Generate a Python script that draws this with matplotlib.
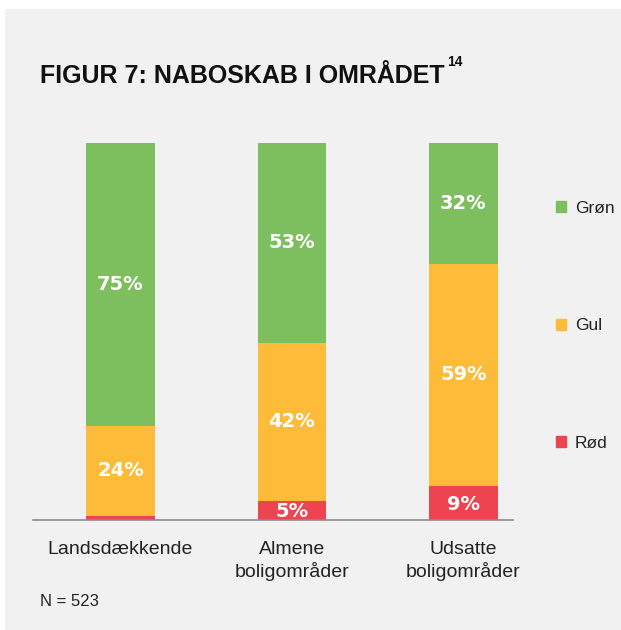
import matplotlib
matplotlib.use("Agg")
import matplotlib.pyplot as plt
from matplotlib.patches import Rectangle, Patch

categories = ["Landsdækkende", "Almene\nboligområder", "Udsatte\nboligområder"]
roed = [1, 5, 9]
gul = [24, 42, 59]
groen = [75, 53, 32]
series_names = ["Grøn", "Gul", "Rød"]

c_groen = "#7dbf5f"
c_gul = "#fdbb3a"
c_roed = "#ee4450"
bg = "#f1f1f1"

fig = plt.figure(figsize=(6.21, 6.30), dpi=100)
fig.patch.set_facecolor("white")
fig.patches.append(Rectangle((5 / 621, 0), 1 - 5 / 621, 621 / 630, transform=fig.transFigure,
                             facecolor=bg, edgecolor="none", zorder=-10))

ax = fig.add_axes([33 / 621, 110 / 630, 480 / 621, 377 / 630])
ax.set_facecolor("none")

x = list(range(len(categories)))
w = 0.40
ax.bar(x, roed, w, color=c_roed)
ax.bar(x, gul, w, bottom=roed, color=c_gul)
bottom2 = [r + g for r, g in zip(roed, gul)]
ax.bar(x, groen, w, bottom=bottom2, color=c_groen)

lab = dict(color="white", fontweight="bold", fontsize=14, ha="center", va="center",
           family="DejaVu Sans")
for i in x:
    if roed[i] >= 3:
        ax.text(i, roed[i] / 2 - 0.3, f"{roed[i]}%", **lab)
    ax.text(i, roed[i] + gul[i] / 2, f"{gul[i]}%", **lab)
    ax.text(i, bottom2[i] + groen[i] / 2, f"{groen[i]}%", **lab)

ax.set_xlim(-0.51, 2.29)
ax.set_ylim(0, 100)
for s in ["top", "right", "left"]:
    ax.spines[s].set_visible(False)
ax.spines["bottom"].set_color("#8c8c8c")
ax.spines["bottom"].set_linewidth(1.2)
ax.set_yticks([])
ax.set_xticks(x)
ax.set_xticklabels(categories, fontsize=14, color="#222222", linespacing=1.3,
                   family=["Liberation Sans", "DejaVu Sans"])
ax.tick_params(axis="x", length=0, pad=15)

handles = [Patch(color=c_groen), Patch(color=c_gul), Patch(color=c_roed)]
leg = fig.legend(handles, series_names, loc="upper left",
                 bbox_to_anchor=(556 / 621, 1 - 201 / 630), frameon=False,
                 borderpad=0, borderaxespad=0,
                 handlelength=0.6, handleheight=0.6, handletextpad=0.5,
                 labelspacing=5.9, prop={"family": ["Liberation Sans", "DejaVu Sans"], "size": 12.5})
for t in leg.get_texts():
    t.set_color("#222222")

title = fig.text(40 / 621, 1 - 76 / 630, "FIGUR 7: NABOSKAB I OMRÅDET", fontsize=18,
                 fontweight="bold", va="center", ha="left", color="#111111",
                 family=["Liberation Sans Narrow", "Liberation Sans", "DejaVu Sans"])
fig.canvas.draw()
bb = title.get_window_extent()
fig.text((bb.x1 + 2) / 621, 1 - 62 / 630, "14", fontsize=10, fontweight="bold",
         va="center", ha="left", color="#111111",
         family=["Liberation Sans Narrow", "Liberation Sans", "DejaVu Sans"])

fig.text(40 / 621, 1 - 601 / 630, "N = 523", fontsize=12, va="center", ha="left",
         color="#222222", family=["Liberation Sans", "DejaVu Sans"])

fig.savefig("out.png", dpi=100, facecolor=fig.get_facecolor())
